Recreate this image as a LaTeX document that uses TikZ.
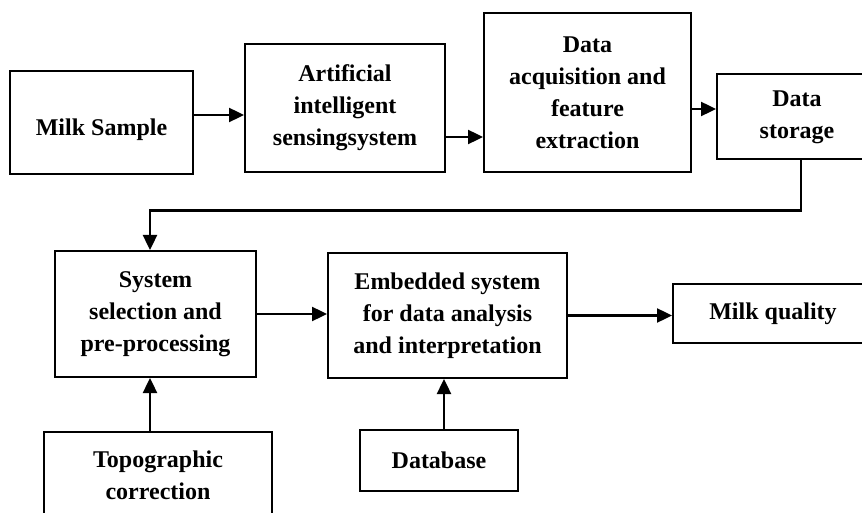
\documentclass[tikz,border=0pt]{standalone}
\usepackage{fontspec}
\setmainfont{Liberation Serif}
\usepackage{tikz}
\usetikzlibrary{arrows.meta,calc}
\tikzset{>={Triangle[length=7.5pt,width=7pt]}}

\begin{document}
\begin{tikzpicture}[x=0.5pt, y=-0.5pt,
    block/.style={draw, line width=1pt, align=center, inner sep=2pt,
        font=\fontsize{12}{16}\selectfont\bfseries},
    flow/.style={->, line width=1.2pt}]
    % Fix the page size and cut off whatever runs past it
    \useasboundingbox (0,0) rectangle (862,513);
    \clip (0,0) rectangle (862,513);

    % Draw the top row of blocks
    \node[block, minimum width=91.5pt, minimum height=51.5pt, text height=15.5pt, text depth=2.7pt] (milk) at (101.5,122.5) {Milk Sample};
    \node[block, minimum width=100pt, minimum height=64pt] (sensing) at (345,108) {Artificial\\ intelligent\\ sensingsystem};
    \node[block, minimum width=103.5pt, minimum height=79.5pt] (acquisition) at (587.5,93) {Data\\ acquisition and\\ feature\\ extraction};
    \node[block, minimum width=80pt, minimum height=42.5pt] (storage) at (797,117) {Data\\ storage};

    % Draw the middle row of blocks
    \node[block, minimum width=100.5pt, minimum height=63pt] (selection) at (155.5,314) {System\\ selection and\\ pre-processing};
    \node[block, minimum width=119.5pt, minimum height=62.5pt] (embedded) at (447.5,315.5) {Embedded system\\ for data analysis\\ and interpretation};
    \node[block, minimum width=100pt, minimum height=29.5pt] (quality) at (773,313.5) {Milk quality};

    % Draw the bottom row of blocks
    \node[block, minimum width=114pt, minimum height=43.5pt] (topographic) at (158,475) {Topographic\\ correction};
    \node[block, minimum width=79pt, minimum height=30.5pt] (database) at (439,460) {Database};

    % Draw the arrows along the top row
    \draw[flow] ([yshift=3.75pt]milk.east) -- ([yshift=3.75pt]milk.east -| sensing.west);
    \draw[flow] ([yshift=-14.5pt]sensing.east) -- ([yshift=-14.5pt]sensing.east -| acquisition.west);
    \draw[flow] ([yshift=4pt]storage.west -| acquisition.east) -- ([yshift=4pt]storage.west);

    % Draw the return line from storage down to the second row
    \draw[flow] ([xshift=2pt]storage.south) -- ++(0,50) -| ([xshift=-2.75pt]selection.north);

    % Draw the arrows along the middle row
    \draw[flow] (selection.east) -- (selection.east -| embedded.west);
    \draw[flow] (embedded.east) -- (embedded.east -| quality.west);

    % Draw the arrows coming up from the bottom row
    \draw[flow] ([xshift=-4pt]topographic.north) -- ([xshift=-4pt]topographic.north |- selection.south);
    \draw[flow] ([xshift=2.5pt]database.north) -- ([xshift=2.5pt]database.north |- embedded.south);
\end{tikzpicture}
\end{document}
